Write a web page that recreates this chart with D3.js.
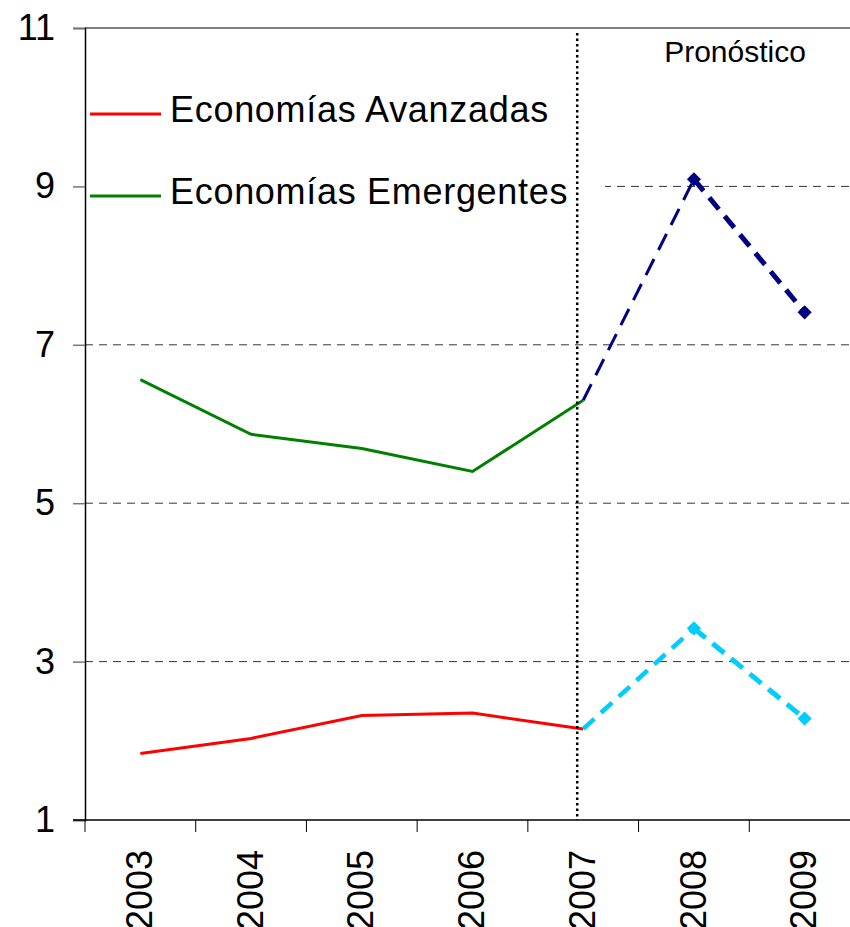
<!DOCTYPE html>
<html>
<head>
<meta charset="utf-8">
<script src="https://cdn.jsdelivr.net/npm/d3@7"></script>
<style>
  body { margin: 0; background: #fff; }
  text { font-family: "Liberation Sans", Arial, sans-serif; }
</style>
</head>
<body>
<div id="chart"></div>
<script>
// data
const years = ["2003", "2004", "2005", "2006", "2007", "2008", "2009"];
const yTicks = [1, 3, 5, 7, 9, 11];
const avanzadas = [1.84, 2.03, 2.32, 2.35, 2.15]; // 2003-2007
const emergentes = [6.56, 5.87, 5.69, 5.40, 6.30]; // 2003-2007
const avanzadasProy = [2.15, 3.42, 2.28]; // 2007-2009
const emergentesProy = [6.30, 9.09, 7.41]; // 2007-2009
const legendLabels = ["Economías Avanzadas", "Economías Emergentes"];
const legendColors = ["#ff0000", "#008000"];

const width = 850;
const height = 927;

const svg = d3
  .select("#chart")
  .append("svg")
  .attr("width", width)
  .attr("height", height);

const x = d3.scaleBand().domain(years).range([85, 860]);
const y = d3.scaleLinear().domain([1, 11]).range([820, 28]);
const cx = (yr) => x(yr) + x.bandwidth() / 2;

// gridlines
svg
  .selectAll("line.grid")
  .data(yTicks.filter((d) => d > 1 && d < 11))
  .join("line")
  .attr("class", "grid")
  .attr("x1", 85)
  .attr("x2", width)
  .attr("y1", (d) => y(d))
  .attr("y2", (d) => y(d))
  .attr("stroke", "#333")
  .attr("stroke-width", 1)
  .attr("stroke-dasharray", "8,6");

// top border
svg
  .append("line")
  .attr("x1", 85)
  .attr("x2", width)
  .attr("y1", y(11))
  .attr("y2", y(11))
  .attr("stroke", "#000");

// legend box (white, hides grid behind it)
svg
  .append("rect")
  .attr("x", 86)
  .attr("y", 82)
  .attr("width", 519)
  .attr("height", 140)
  .attr("fill", "#fff");

const line = d3
  .line()
  .x((d) => cx(d[0]))
  .y((d) => y(d[1]));

const hist = years.slice(0, 5);
const proy = years.slice(4);

// historical lines
svg
  .append("path")
  .datum(hist.map((yr, i) => [yr, emergentes[i]]))
  .attr("d", line)
  .attr("fill", "none")
  .attr("stroke", "#008000")
  .attr("stroke-width", 3);

svg
  .append("path")
  .datum(hist.map((yr, i) => [yr, avanzadas[i]]))
  .attr("d", line)
  .attr("fill", "none")
  .attr("stroke", "#ff0000")
  .attr("stroke-width", 3);

// forecast segments
function drawProy(values, color, widths, dashes) {
  for (let i = 0; i < values.length - 1; i++) {
    svg
      .append("path")
      .datum([
        [proy[i], values[i]],
        [proy[i + 1], values[i + 1]],
      ])
      .attr("d", line)
      .attr("fill", "none")
      .attr("stroke", color)
      .attr("stroke-width", widths[i])
      .attr("stroke-dasharray", dashes[i]);
  }
  svg
    .selectAll(null)
    .data(values.slice(1).map((v, i) => [proy[i + 1], v]))
    .join("path")
    .attr("d", d3.symbol(d3.symbolSquare, 100))
    .attr("transform", (d) => `translate(${cx(d[0])},${y(d[1])}) rotate(45)`)
    .attr("fill", color);
}

drawProy(emergentesProy, "#000080", [3, 5], ["18,10", "15,9"]);
drawProy(avanzadasProy, "#00ccff", [4.5, 5], ["15,9", "15,9"]);

// dotted separator
svg
  .append("line")
  .attr("x1", cx("2007") - 6)
  .attr("x2", cx("2007") - 6)
  .attr("y1", 33)
  .attr("y2", y(1))
  .attr("stroke", "#000")
  .attr("stroke-width", 2.5)
  .attr("stroke-dasharray", "2.5,3");

svg
  .append("text")
  .attr("x", 735)
  .attr("y", 62)
  .attr("text-anchor", "middle")
  .attr("font-size", 30)
  .text("Pronóstico");

// y axis
const yAxis = svg
  .append("g")
  .attr("transform", "translate(85,0)")
  .call(d3.axisLeft(y).tickValues(yTicks).tickSize(12).tickPadding(18).tickFormat(d3.format("d")));
yAxis.select(".domain").attr("stroke", "#000").attr("stroke-width", 1.5);
yAxis.selectAll(".tick line").attr("stroke", "#777").attr("stroke-width", 1.5);
yAxis
  .selectAll(".tick text")
  .attr("font-size", 36)
  .attr("font-family", "Liberation Sans, Arial, sans-serif")
  .attr("fill", "#000");

// x axis
svg
  .append("line")
  .attr("x1", 73)
  .attr("x2", width)
  .attr("y1", y(1))
  .attr("y2", y(1))
  .attr("stroke", "#000")
  .attr("stroke-width", 1.5);

svg
  .selectAll("line.xtick")
  .data(years)
  .join("line")
  .attr("class", "xtick")
  .attr("x1", (d) => x(d))
  .attr("x2", (d) => x(d))
  .attr("y1", y(1))
  .attr("y2", y(1) + 12)
  .attr("stroke", "#000");

svg
  .selectAll("text.xlabel")
  .data(years)
  .join("text")
  .attr("class", "xlabel")
  .attr("transform", (d) => `translate(${cx(d) - 1},850) rotate(-90)`)
  .attr("text-anchor", "end")
  .attr("dy", "0.35em")
  .attr("font-size", 36)
  .text((d) => d);

// legend
const legend = svg
  .selectAll("g.legend")
  .data(legendLabels)
  .join("g")
  .attr("class", "legend")
  .attr("transform", (d, i) => `translate(0,${114 + i * 82})`);

legend
  .append("line")
  .attr("x1", 90)
  .attr("x2", 161)
  .attr("stroke", (d, i) => legendColors[i])
  .attr("stroke-width", 3);

legend
  .append("text")
  .attr("x", 170)
  .attr("y", 8)
  .attr("font-size", 36)
  .attr("letter-spacing", 0.7)
  .text((d) => d);
</script>
</body>
</html>
